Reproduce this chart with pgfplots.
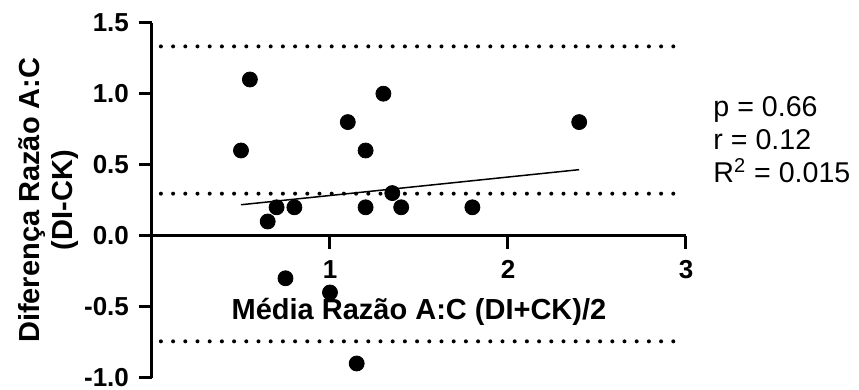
\documentclass[border=0pt]{standalone}
\usepackage{pgfplots}
\pgfplotsset{compat=1.18}
\usepackage{fontspec}
\setmainfont{Liberation Sans}
\newfontfamily\plainfont{Liberation Sans}
\begin{document}
\begin{tikzpicture}
\path[use as bounding box] (-76pt,-6.15pt) rectangle (353.5pt,188.85pt);
\begin{axis}[
  x=89pt, y=71pt,
  xmin=0, xmax=3, ymin=-1, ymax=1.5,
  axis x line*=middle, axis y line*=left,
  axis line style={line width=1.5pt, black},
  xtick={1,2,3}, xticklabels={1,2,3},
  ytick={-1,-0.5,0,0.5,1,1.5}, yticklabels={-1.0,-0.5,0.0,0.5,1.0,1.5},
  tick align=outside, major tick length=6.5pt,
  tick style={line width=1.5pt, black},
  tick label style={font=\fontsize{13}{14}\selectfont\bfseries},
  yticklabel style={xshift=-1.5pt},
  xticklabel style={yshift=-2.5pt},
  xlabel={Média Razão A:C (DI+CK)/2},
  xlabel style={at={(axis description cs:0.5,0.184)}, anchor=center, font=\fontsize{14.5}{16}\selectfont\bfseries},
  ylabel={Diferença Razão A:C\\(DI-CK)},
  ylabel style={align=center, at={(axis description cs:-0.1938,0.5)}, anchor=center, font=\fontsize{14.5}{16.5}\selectfont\bfseries},
  clip=false,
]
\addplot[black, line width=2pt, dash pattern=on 0pt off 6.1pt, line cap=round] coordinates {(0.05,1.333) (2.95,1.333)};
\addplot[black, line width=2pt, dash pattern=on 0pt off 6.1pt, line cap=round] coordinates {(0.05,0.296) (2.95,0.296)};
\addplot[black, line width=2pt, dash pattern=on 0pt off 6.1pt, line cap=round] coordinates {(0.05,-0.744) (2.95,-0.744)};
\addplot[black, line width=0.75pt] coordinates {(0.5,0.218) (2.4,0.465)};
\addplot[only marks, mark=*, mark size=3.75pt, black] coordinates {
(0.55,1.10) (0.50,0.60) (1.10,0.80) (1.30,1.00) (1.20,0.60) (2.40,0.80)
(1.35,0.30) (0.70,0.20) (0.80,0.20) (0.65,0.10) (1.20,0.20) (1.40,0.20)
(1.80,0.20) (0.75,-0.30) (1.00,-0.40) (1.15,-0.90)
};
\node[anchor=base west, inner sep=0pt, font=\plainfont\fontsize{14.3}{16}\selectfont] at (axis cs:3.152,0.840) {p = 0.66};
\node[anchor=base west, inner sep=0pt, font=\plainfont\fontsize{14.3}{16}\selectfont] at (axis cs:3.152,0.61) {r = 0.12};
\node[anchor=base west, inner sep=0pt, font=\plainfont\fontsize{14.3}{16}\selectfont] at (axis cs:3.152,0.373) {R\textsuperscript{2} = 0.015};
\end{axis}
\end{tikzpicture}
\end{document}
